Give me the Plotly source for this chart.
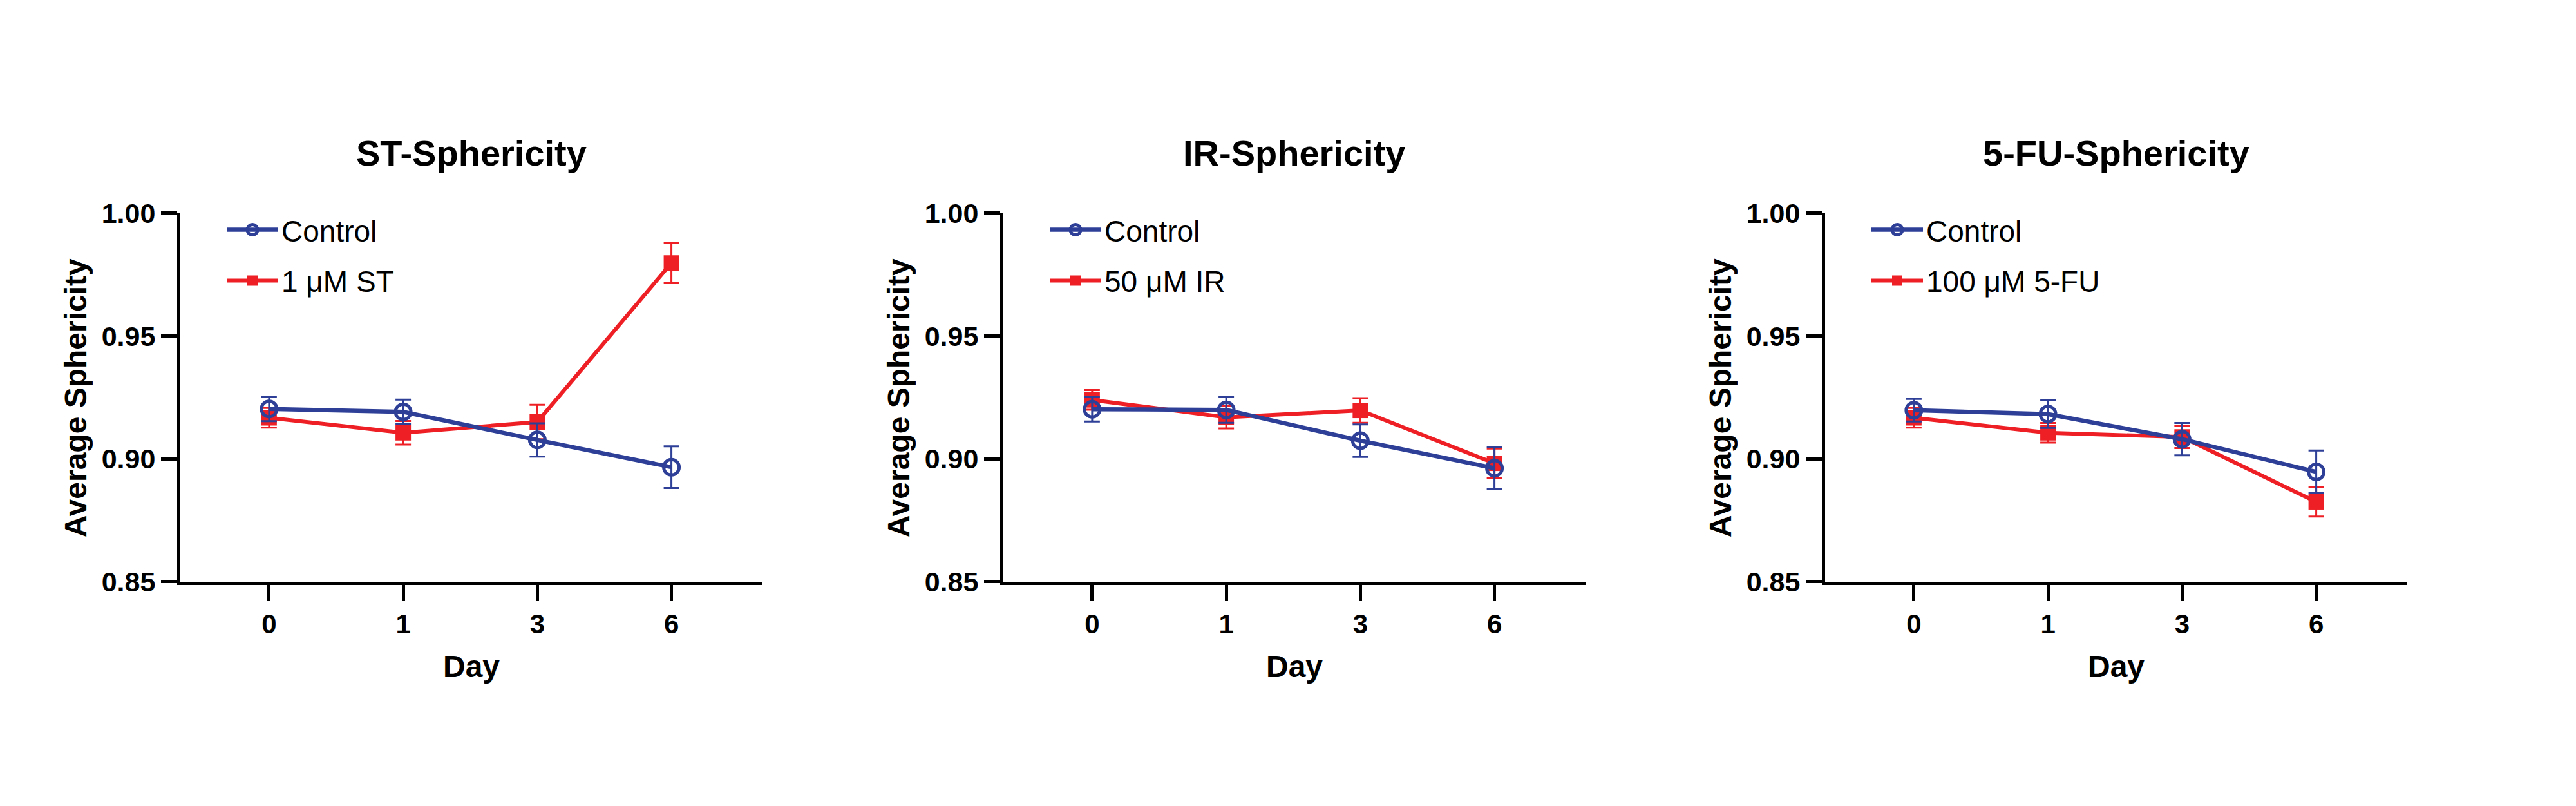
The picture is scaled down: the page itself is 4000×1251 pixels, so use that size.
import plotly.graph_objects as go

days = ["0", "1", "3", "6"]
y_ticks = [0.85, 0.90, 0.95, 1.00]

titles = ["ST-Sphericity", "IR-Sphericity", "5-FU-Sphericity"]
treat_names = ["1 μM ST", "50 μM IR", "100 μM 5-FU"]

control_st = [0.9203, 0.9191, 0.9077, 0.8966]
control_st_err = [0.0050, 0.0050, 0.0068, 0.0085]
treat_st = [0.9167, 0.9106, 0.9150, 0.9797]
treat_st_err = [0.0040, 0.0048, 0.0070, 0.0082]

control_ir = [0.9202, 0.9199, 0.9074, 0.8962]
control_ir_err = [0.0050, 0.0052, 0.0066, 0.0085]
treat_ir = [0.9240, 0.9169, 0.9197, 0.8982]
treat_ir_err = [0.0040, 0.0045, 0.0050, 0.0060]

control_fu = [0.9198, 0.9182, 0.9080, 0.8947]
control_fu_err = [0.0046, 0.0056, 0.0066, 0.0087]
treat_fu = [0.9167, 0.9106, 0.9089, 0.8825]
treat_fu_err = [0.0040, 0.0040, 0.0045, 0.0060]

controls = [control_st, control_ir, control_fu]
control_errs = [control_st_err, control_ir_err, control_fu_err]
treats = [treat_st, treat_ir, treat_fu]
treat_errs = [treat_st_err, treat_ir_err, treat_fu_err]

BLUE = "#2E3F98"
RED = "#EE2025"
FONT = "Liberation Sans, Arial, sans-serif"
W, H = 4000, 1251

axis_left_px = [280, 1558, 2834]
axis_w_px = 904
plot_top_px, plot_bot_px = 319, 914

fig = go.Figure()
for i in range(3):
    xa = "x" if i == 0 else f"x{i+1}"
    ya = "y" if i == 0 else f"y{i+1}"
    lg = "legend" if i == 0 else f"legend{i+1}"
    fig.add_trace(go.Scatter(
        x=days, y=treats[i], name=treat_names[i], xaxis=xa, yaxis=ya,
        mode="lines+markers", legend=lg, legendrank=2, legendgroup=f"t{i}",
        line=dict(color=RED, width=6),
        marker=dict(symbol="square", size=24, color=RED),
        error_y=dict(type="data", array=treat_errs[i], color=RED, thickness=3, width=12),
    ))
    fig.add_trace(go.Scatter(
        x=days, y=controls[i], name="Control", xaxis=xa, yaxis=ya,
        mode="lines+markers", legend=lg, legendrank=1, legendgroup=f"c{i}",
        line=dict(color=BLUE, width=6.5),
        marker=dict(symbol="circle-open", size=24, color=BLUE, line=dict(width=5, color=BLUE)),
        error_y=dict(type="data", array=control_errs[i], color=BLUE, thickness=3, width=12),
    ))

layout = dict(
    width=W, height=H, margin=dict(l=0, r=0, t=0, b=0),
    paper_bgcolor="white", plot_bgcolor="white",
    font=dict(family=FONT, color="black"),
    showlegend=True, annotations=[],
)
for i in range(3):
    x0 = axis_left_px[i] / W
    x1 = (axis_left_px[i] + axis_w_px) / W
    y0 = 1 - plot_bot_px / H
    y1 = 1 - plot_top_px / H
    sfx = "" if i == 0 else str(i + 1)
    layout[f"xaxis{sfx}"] = dict(
        domain=[x0, x1], anchor=f"y{sfx}", type="category",
        categoryorder="array", categoryarray=days,
        range=[-0.662, 3.679], showgrid=False, zeroline=False,
        showline=True, linecolor="black", linewidth=5,
        ticks="outside", ticklen=25, tickwidth=5, tickcolor="black",
        tickfont=dict(size=42, weight="bold", family=FONT),
        fixedrange=True,
    )
    layout[f"yaxis{sfx}"] = dict(
        domain=[y0, y1], anchor=f"x{sfx}", range=[0.85, 1.0],
        tickvals=y_ticks, tickformat=".2f", showgrid=False, zeroline=False,
        showline=True, linecolor="black", linewidth=5,
        ticks="outside", ticklen=25, tickwidth=5, tickcolor="black",
        tickfont=dict(size=43, weight="bold", family=FONT),
        fixedrange=True,
    )
    lgname = "legend" if i == 0 else f"legend{i+1}"
    layout[lgname] = dict(
        x=(axis_left_px[i] + 67) / W, y=1 - 308 / H, xanchor="left", yanchor="top",
        font=dict(size=46, family=FONT), bgcolor="rgba(0,0,0,0)",
        traceorder="grouped", tracegroupgap=16, itemwidth=80,
    )
    cx = (axis_left_px[i] + axis_w_px / 2) / W
    layout["annotations"].append(dict(
        text=titles[i], x=cx, y=1 - 222 / H, xref="paper", yref="paper",
        xanchor="center", yanchor="middle", showarrow=False,
        font=dict(size=56, weight="bold", family=FONT),
    ))
    layout["annotations"].append(dict(
        text="Day", x=cx, y=1 - 1051 / H, xref="paper", yref="paper",
        xanchor="center", yanchor="middle", showarrow=False,
        font=dict(size=48, weight="bold", family=FONT),
    ))
    layout["annotations"].append(dict(
        text="Average Sphericity", x=(axis_left_px[i] - 163) / W,
        y=1 - 618 / H, xref="paper", yref="paper", textangle=-90,
        xanchor="center", yanchor="middle", showarrow=False,
        font=dict(size=48, weight="bold", family=FONT),
    ))

fig.update_layout(**layout)
fig.write_html("out.html")
